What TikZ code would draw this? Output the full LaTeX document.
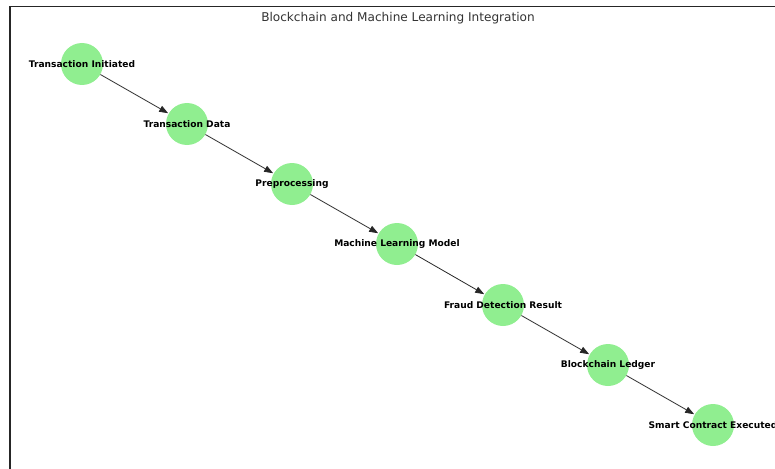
\documentclass[tikz,border=0pt]{standalone}
\usepackage{fontspec}
\setmainfont{DejaVu Sans}
\usetikzlibrary{arrows.meta}
\begin{document}
\begin{tikzpicture}[x=1pt,y=-1pt,
  stage/.style={circle,fill={rgb,255:red,144;green,238;blue,144},minimum size=42pt,inner sep=0pt},
  lbl/.style={font=\bfseries\fontsize{9.1}{10}\selectfont,text=black,inner sep=0pt},
  link/.style={draw=black!85,line width=0.8pt,-{Triangle[length=9pt,width=6.5pt]},shorten >=0.5pt}]
\useasboundingbox (0,0) rectangle (775,468);
\draw[line width=1.3pt,black!85] (10,480) -- (10,6.5) -- (790,6.5);
\node[font=\fontsize{12.1}{14}\selectfont,text=black!80] (title) at (398,18) {Blockchain and Machine Learning Integration};
\node[stage] (n1) at (82,64) {};
\node[stage] (n2) at (187,124) {};
\node[stage] (n3) at (292,184) {};
\node[stage] (n4) at (397,244) {};
\node[stage] (n5) at (503,305) {};
\node[stage] (n6) at (608,365) {};
\node[stage] (n7) at (713,425) {};
\draw[link] (n1) -- (n2);
\draw[link] (n2) -- (n3);
\draw[link] (n3) -- (n4);
\draw[link] (n4) -- (n5);
\draw[link] (n5) -- (n6);
\draw[link] (n6) -- (n7);
\node[lbl] (t1) at (n1) {Transaction Initiated};
\node[lbl] (t2) at (n2) {Transaction Data};
\node[lbl] (t3) at (n3) {Preprocessing};
\node[lbl] (t4) at (n4) {Machine Learning Model};
\node[lbl] (t5) at (n5) {Fraud Detection Result};
\node[lbl] (t6) at (n6) {Blockchain Ledger};
\node[lbl] (t7) at (n7) {Smart Contract Executed};
\end{tikzpicture}
\end{document}
